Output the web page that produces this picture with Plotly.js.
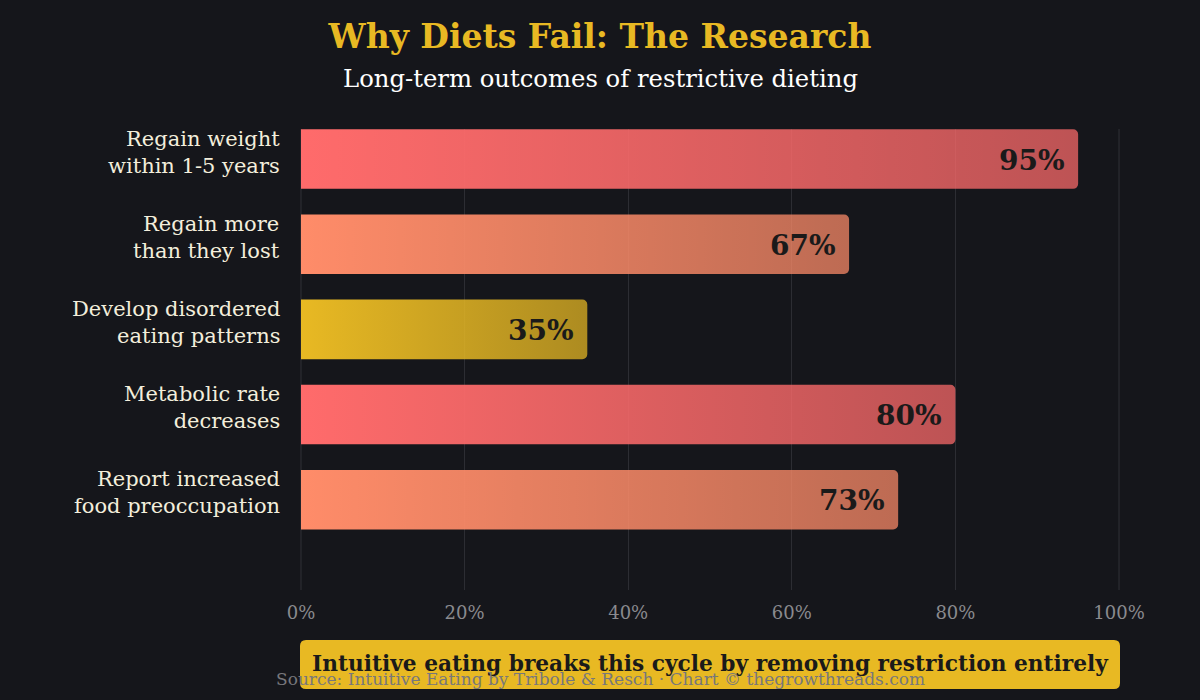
<!DOCTYPE html>
<html>
<head>
<meta charset="utf-8">
<script src="https://cdn.plot.ly/plotly-3.0.1.min.js"></script>
<style>
  html, body { margin: 0; padding: 0; background: #15161b; }
  #chart { width: 1200px; height: 700px; }
</style>
</head>
<body>
<div id="chart"></div>
<script>
// Outcome categories (top to bottom) and their shares in percent
const categories = [
  "Regain weight<br>within 1-5 years",
  "Regain more<br>than they lost",
  "Develop disordered<br>eating patterns",
  "Metabolic rate<br>decreases",
  "Report increased<br>food preoccupation"
];
const percentages = [95, 67, 35, 80, 73];
const barColors = ["#ff6b6b", "#ff8c69", "#e8b923", "#ff6b6b", "#ff8c69"];
const xTickValues = [0, 20, 40, 60, 80, 100];
const xTickLabels = ["0%", "20%", "40%", "60%", "80%", "100%"];

const FONT = "Georgia, 'DejaVu Serif', serif";
const BG = "#15161b";
const GRID = "#2c2d33";

const positions = categories.map((_, i) => i);

const trace = {
  type: "bar",
  orientation: "h",
  x: percentages,
  y: positions,
  width: 0.7,
  marker: { color: barColors, cornerradius: 5, line: { width: 0 } },
  hoverinfo: "skip"
};

// Value labels sitting just inside the end of each bar
const valueLabels = percentages.map((v, i) => ({
  x: v, y: i, xref: "x", yref: "y",
  text: "<b>" + v + "%</b>",
  showarrow: false,
  xanchor: "right", yanchor: "middle",
  xshift: -11, yshift: -1,
  font: { family: FONT, size: 28, color: "#1a1a1a" }
}));

// Category labels to the left of the plot, right-aligned
const categoryLabels = categories.map((c, i) => ({
  x: 0, y: i, xref: "paper", yref: "y",
  text: c, align: "right",
  showarrow: false,
  xanchor: "right", yanchor: "middle",
  xshift: -18, yshift: 7,
  font: { family: FONT, size: 21, color: "#f3eedc" }
}));

// Grid lines at the two ends of the value axis
const edgeGrid = [xTickValues[0], xTickValues[xTickValues.length - 1]].map(v => ({
  type: "line", xref: "x", yref: "paper", x0: v, x1: v, y0: 0, y1: 1,
  line: { color: GRID, width: 1.2 }, layer: "below"
}));

// Rounded call-out box under the axis (paper coordinates)
const bx0 = 0, bx1 = 1, by0 = -0.2148, by1 = -0.1085;
const rx = 6 / 820, ry = 6 / 461;
const boxPath =
  `M ${bx0 + rx},${by1} L ${bx1 - rx},${by1} Q ${bx1},${by1} ${bx1},${by1 - ry} ` +
  `L ${bx1},${by0 + ry} Q ${bx1},${by0} ${bx1 - rx},${by0} L ${bx0 + rx},${by0} ` +
  `Q ${bx0},${by0} ${bx0},${by0 + ry} L ${bx0},${by1 - ry} Q ${bx0},${by1} ${bx0 + rx},${by1} Z`;

const layout = {
  width: 1200, height: 700,
  paper_bgcolor: BG, plot_bgcolor: BG,
  margin: { l: 300, r: 80, t: 129, b: 110 },
  showlegend: false,
  font: { family: FONT, color: "#f3eedc" },
  title: {
    text: "<b>Why Diets Fail: The Research</b>",
    x: 0.5, xanchor: "center",
    y: 1 - 36 / 700, yanchor: "middle",
    font: { family: FONT, size: 33, color: "#e8b923" }
  },
  xaxis: {
    range: [-0.12, 100.12],
    tickvals: xTickValues, ticktext: xTickLabels,
    showgrid: true, gridcolor: GRID, gridwidth: 1.2,
    zeroline: false, showline: false, ticks: "",
    ticklabelstandoff: 10,
    tickfont: { family: FONT, size: 18, color: "#8a8a8e" },
    fixedrange: true
  },
  yaxis: {
    range: [5.06, -0.353],
    tickvals: positions,
    showticklabels: false,
    showgrid: false, zeroline: false, showline: false, ticks: "",
    fixedrange: true
  },
  shapes: edgeGrid.concat([{
    type: "path", xref: "paper", yref: "paper", path: boxPath,
    fillcolor: "#e8b923", line: { width: 0 }, layer: "above"
  }]),
  annotations: [
    {
      xref: "paper", yref: "paper", x: 0.3659, y: 1.1106,
      text: "Long-term outcomes of restrictive dieting",
      showarrow: false, xanchor: "center", yanchor: "middle",
      font: { family: FONT, size: 24.3, color: "#ffffff" }
    },
    {
      xref: "paper", yref: "paper", x: 0.5, y: -0.1605,
      text: "<b>Intuitive eating breaks this cycle by removing restriction entirely</b>",
      showarrow: false, xanchor: "center", yanchor: "middle",
      font: { family: FONT, size: 21.7, color: "#1a1a1a" }
    },
    {
      xref: "paper", yref: "paper", x: 0.3659, y: -0.193,
      text: "Source: Intuitive Eating by Tribole & Resch · Chart © thegrowthreads.com",
      showarrow: false, xanchor: "center", yanchor: "middle",
      font: { family: FONT, size: 17, color: "#77777b" }
    }
  ].concat(categoryLabels, valueLabels)
};

// Left-to-right fade on each bar, from full colour to a dimmer tone
function applyGradients(gd) {
  const svg = gd.querySelector("svg.main-svg");
  const ns = "http://www.w3.org/2000/svg";
  let defs = svg.querySelector("defs");
  if (!defs) { defs = document.createElementNS(ns, "defs"); svg.insertBefore(defs, svg.firstChild); }
  const paths = gd.querySelectorAll(".barlayer .trace .point path");
  paths.forEach((p, i) => {
    const id = "barfade" + i;
    let g = document.getElementById(id);
    if (!g) {
      g = document.createElementNS(ns, "linearGradient");
      g.setAttribute("id", id);
      g.setAttribute("x1", "0"); g.setAttribute("x2", "1");
      g.setAttribute("y1", "0"); g.setAttribute("y2", "0");
      [["0", 1], ["1", 0.72]].forEach(([off, op]) => {
        const s = document.createElementNS(ns, "stop");
        s.setAttribute("offset", off);
        s.setAttribute("stop-color", barColors[i]);
        s.setAttribute("stop-opacity", op);
        g.appendChild(s);
      });
      defs.appendChild(g);
    }
    p.style.fill = "url(#" + id + ")";
    p.style.fillOpacity = 1;
  });
}

Plotly.newPlot("chart", [trace], layout, { displayModeBar: false, staticPlot: true })
  .then(applyGradients);
</script>
</body>
</html>
